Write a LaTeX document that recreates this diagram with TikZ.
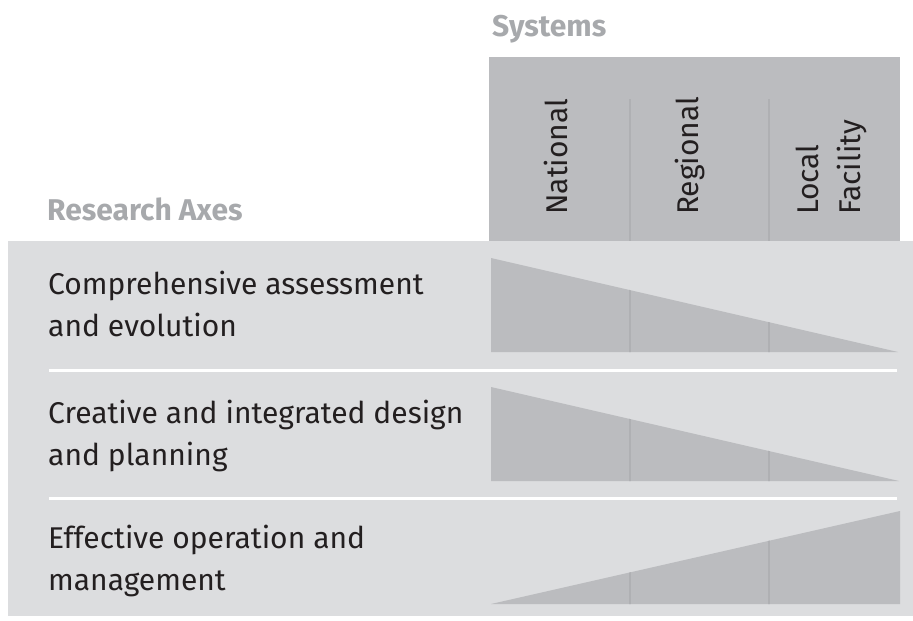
\documentclass[tikz,border=0pt]{standalone}
\usepackage{fontspec}
\setmainfont{Fira Sans}
\definecolor{bandgray}{HTML}{DCDDDF}
\definecolor{cellgray}{HTML}{BBBCBF}
\definecolor{rulegray}{HTML}{AFB0B3}
\definecolor{headgray}{HTML}{A7A9AC}
\definecolor{inkgray}{HTML}{231F20}
\begin{document}
\begin{tikzpicture}[x=1pt, y=-1pt,
        head/.style={font=\fontsize{30}{36}\selectfont\bfseries, text=headgray, inner sep=0pt, anchor=base west},
        axis/.style={font=\fontsize{30}{42}\selectfont, text=inkgray, inner sep=0pt, align=left, anchor=base west},
        system/.style={font=\fontsize{30}{42}\selectfont, text=inkgray, inner sep=0pt, rotate=90, anchor=base west}]
            \useasboundingbox (0, 0) rectangle (913, 621);

            \coordinate (A1) at (491, 258);
            \coordinate (B1) at (491, 352);
            \coordinate (C1) at (898, 352);
            \coordinate (A2) at (491, 387);
            \coordinate (B2) at (491, 481);
            \coordinate (C2) at (899, 481);
            \coordinate (A3) at (900, 511);
            \coordinate (B3) at (491, 604);
            \coordinate (C3) at (900, 604);

            \fill[bandgray] (8, 241) rectangle (913, 616);
            \fill[cellgray] (489, 57) rectangle (900, 241);
            \fill[cellgray] (A1) -- (B1) -- (C1) -- cycle;
            \fill[cellgray] (A2) -- (B2) -- (C2) -- cycle;
            \fill[cellgray] (B3) -- (C3) -- (A3) -- cycle;

            \foreach \x in {630, 769} {
                \draw[rulegray, line width=2pt] (\x, 99) -- (\x, 241);
            }
            \begin{scope}
                \clip (A1) -- (B1) -- (C1) -- cycle
                      (A2) -- (B2) -- (C2) -- cycle
                      (B3) -- (C3) -- (A3) -- cycle;
                \foreach \x in {630, 769} {
                    \draw[rulegray, line width=2pt] (\x, 250) -- (\x, 610);
                }
            \end{scope}

            \draw[white, line width=3pt] (49, 370) -- (897, 370);
            \draw[white, line width=3pt] (49, 498) -- (897, 498);

            \node[head] (systems) at (492, 36) {Systems};
            \node[head] (axes) at (47, 220) {Research Axes};

            \node[system] (national) at (567, 215) {National};
            \node[system] (regional) at (698, 215) {Regional};
            \node[system] (local) at (818, 215) {Local};
            \node[system] (facility) at (860, 215) {Facility};

            \node[axis] (assess) at (48, 336) {Comprehensive assessment\\and evolution};
            \node[axis] (design) at (48, 465) {Creative and integrated design\\and planning};
            \node[axis] (operate) at (48, 590) {Effective operation and\\management};
        \end{tikzpicture}
\end{document}
